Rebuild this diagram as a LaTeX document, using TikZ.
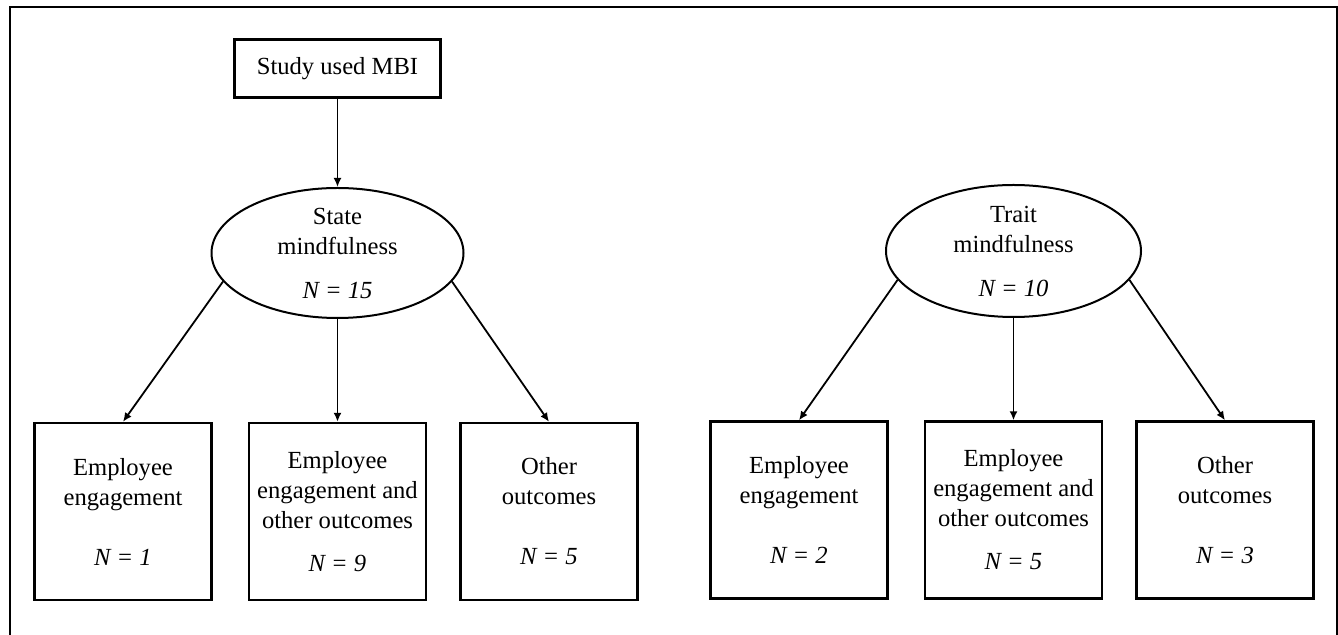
\documentclass[tikz,border=0pt]{standalone}
\usepackage{fontspec}
\setmainfont{Liberation Serif}
\usepackage{tikz}
\usetikzlibrary{arrows.meta,shapes.geometric}

\begin{document}
\begin{tikzpicture}[x=0.5pt,y=-0.5pt,font=\fontsize{12.3}{15}\selectfont,
  box/.style={draw,line width=1.2pt,align=center,inner sep=0pt,minimum width=88.5pt,minimum height=88.5pt},
  oval/.style={draw,ellipse,line width=1pt,align=center,inner sep=0pt,minimum width=126pt,minimum height=65pt},
  arr/.style={line width=0.9pt,-{Latex[length=4.5pt,width=4pt]}}]
\useasboundingbox (0,0) rectangle (1338,635);
% outer frame (bottom edge falls outside)
\draw[line width=1pt] (10,645) -- (10,7) -- (1336.5,7) -- (1336.5,645);
% state branch (left)
\node[draw,line width=1.2pt,minimum width=103pt,minimum height=29pt] (mbi) at (337.5,68.5) {Study used MBI};
\node[oval] (state) at (337.5,253) {State\\mindfulness\\[7pt]\textit{N = 15}};
\node[box] (se1) at (123,511.5) {Employee\\engagement\\[15pt]\textit{N = 1}};
\node[box] (se2) at (337.5,511.5) {Employee\\engagement and\\other outcomes\\[6.5pt]\textit{N = 9}};
\node[box] (se3) at (549,511.5) {Other\\outcomes\\[15pt]\textit{N = 5}};
\draw[arr] (mbi.south) -- (state.north);
\draw[arr] (state.194) -- (se1.north);
\draw[arr] (state.south) -- (se2.north);
\draw[arr] (state.346) -- (se3.north);
% trait branch (right)
\node[oval,minimum width=127.5pt,minimum height=66pt] (trait) at (1013.5,251) {Trait\\mindfulness\\[7pt]\textit{N = 10}};
\node[box] (te1) at (799,510) {Employee\\engagement\\[15pt]\textit{N = 2}};
\node[box] (te2) at (1013.5,510) {Employee\\engagement and\\other outcomes\\[6.5pt]\textit{N = 5}};
\node[box] (te3) at (1225,510) {Other\\outcomes\\[15pt]\textit{N = 3}};
\draw[arr] (trait.194) -- (te1.north);
\draw[arr] (trait.south) -- (te2.north);
\draw[arr] (trait.346) -- (te3.north);
\end{tikzpicture}
\end{document}
